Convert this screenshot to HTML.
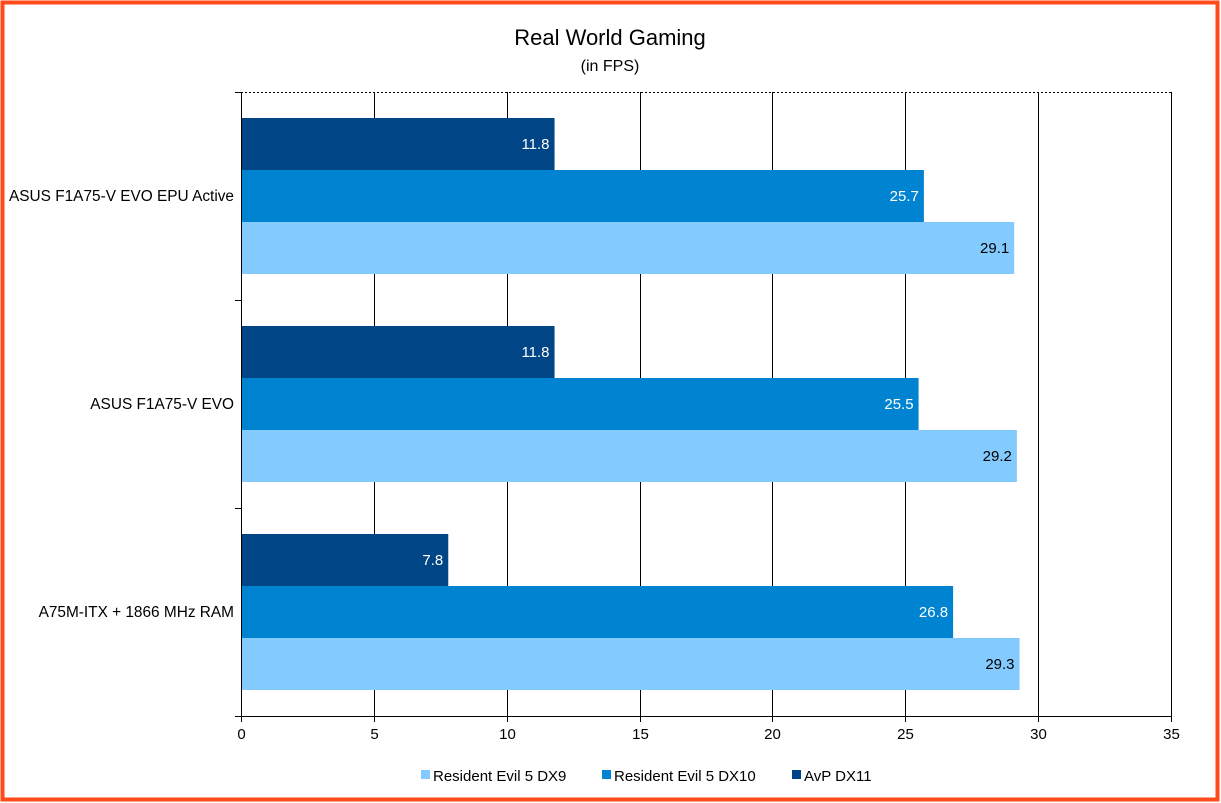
<!DOCTYPE html>
<html><head><meta charset="utf-8"><style>
body{margin:0;background:#fff;}
svg{display:block;font-family:"Liberation Sans",sans-serif;}
</style></head><body>
<svg width="1221" height="803">
<rect x="2.5" y="2.5" width="1215" height="797" fill="#fff" stroke="#ff4a1a" stroke-width="4"/>
<text x="610" y="45" font-size="22" text-anchor="middle">Real World Gaming</text>
<text x="610" y="71" font-size="16" text-anchor="middle">(in FPS)</text>
<g id="plot"></g>
<g id="legend"></g>
</svg>
<script>
const categories=["ASUS F1A75-V EVO EPU Active","ASUS F1A75-V EVO","A75M-ITX + 1866 MHz RAM"];
const seriesNames=["AvP DX11","Resident Evil 5 DX10","Resident Evil 5 DX9"];
const avp=[11.8,11.8,7.8];
const re5dx10=[25.7,25.5,26.8];
const re5dx9=[29.1,29.2,29.3];
const ticks=[0,5,10,15,20,25,30,35];
const series=[avp,re5dx10,re5dx9];
const colors=["#004586","#0084d1","#83caff"];
const textColors=["#fff","#fff","#000"];
const NS="http://www.w3.org/2000/svg";
const X0=241,X1=1171,Y0=92,Y1=716,XMAX=35;
const xs=v=>X0+(v/XMAX)*(X1-X0);
const band=(Y1-Y0)/categories.length;
const plot=document.getElementById('plot');
function mk(t,a,p){const e=document.createElementNS(NS,t);for(const k in a)e.setAttribute(k,a[k]);(p||plot).appendChild(e);return e;}
const topBorder=mk('line',{x1:X0,y1:Y0+0.5,x2:X1,y2:Y0+0.5,stroke:'#000','stroke-dasharray':'2,2'});


ticks.forEach(t=>{
 const x=Math.round(xs(t))+0.5;
 const g=mk('line',{x1:x,y1:Y0,x2:x,y2:Y1+6,stroke:'#000'});
 
 
 const l=mk('text',{x:x,y:Y1+23,'font-size':15,'text-anchor':'middle'});
 l.textContent=t;
 
 
});
const ax=mk('line',{x1:X0,y1:Y1+0.5,x2:X1,y2:Y1+0.5,stroke:'#000'});


for(let i=0;i<=categories.length;i++){
 const y=Math.round(Y0+i*band)+0.5;
 const t=mk('line',{x1:X0-6,y1:y,x2:X0,y2:y,stroke:'#000'});
 
 
}
const bh=band/4;
categories.forEach((c,i)=>{
 const gy=Y0+i*band;
 const l=mk('text',{x:234,y:gy+band/2+5,'font-size':15.4,'text-anchor':'end'});
 l.textContent=c;
 
 
 series.forEach((s,j)=>{
  const y=gy+bh/2+j*bh;
  const r=mk('rect',{x:X0,y:y,width:xs(s[i])-X0,height:bh,fill:colors[j]});
  
  
  const v=mk('text',{x:xs(s[i])-5,y:y+bh/2+5,'font-size':15,'text-anchor':'end',fill:textColors[j]});
  v.textContent=s[i];
  
  
 });
});
const yax=mk('line',{x1:X0+0.5,y1:Y0,x2:X0+0.5,y2:Y1+6,stroke:'#000'});


const lg=document.getElementById('legend');
const legend=[[2,421,"Resident Evil 5 DX9"],[1,602,"Resident Evil 5 DX10"],[0,792,"AvP DX11"]];
legend.forEach(([j,x,n])=>{
 const r=mk('rect',{x:x,y:770,width:9,height:9,fill:colors[j]},lg);
 
 
 const t=mk('text',{x:x+12,y:781,'font-size':15},lg);
 t.textContent=n;
 
 
});
</script>
</body></html>
